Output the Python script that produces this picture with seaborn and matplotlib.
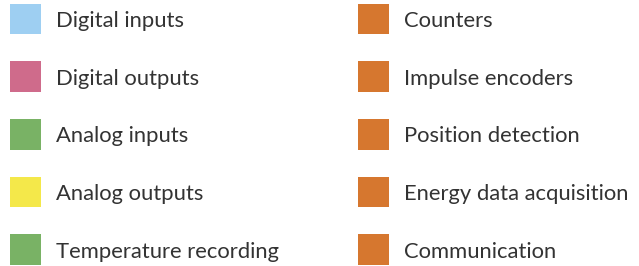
import matplotlib
matplotlib.use("Agg")
import matplotlib.pyplot as plt
import seaborn as sns
import pandas as pd

# legend entries, left column then right column
labels = ["Digital inputs", "Digital outputs", "Analog inputs", "Analog outputs",
          "Temperature recording",
          "Counters", "Impulse encoders", "Position detection",
          "Energy data acquisition", "Communication"]
colors = ["#9ecff2", "#cf6b8b", "#79b265", "#f4e84a", "#79b265",
          "#d6772f", "#d6772f", "#d6772f", "#d6772f", "#d6772f"]
n_rows = 5

df = pd.DataFrame({"label": labels, "color": colors})
df["col"] = [i // n_rows for i in range(len(df))]
df["row"] = [i % n_rows for i in range(len(df))]

sns.set_style("white")
plt.rcParams["font.family"] = ["Lato", "DejaVu Sans"]

fig = plt.figure(figsize=(6.39, 2.66), dpi=100)
ax = fig.add_axes([0, 0, 1, 1])

sns.scatterplot(data=df, x="col", y="row", hue="label", palette=dict(zip(labels, colors)),
                marker="s", s=490, linewidth=0, legend=False, ax=ax)

for _, r in df.iterrows():
    ax.text(r["col"] + 0.087, r["row"], r["label"], fontsize=15.8, color="#333333",
            va="center_baseline", ha="left")

ax.set_xlim(-25.5 / 348, (639 - 25.5) / 348)
ax.set_ylim((266 - 19) / 57.7, -19 / 57.7)
ax.set_axis_off()

fig.savefig("out.png", dpi=100)
